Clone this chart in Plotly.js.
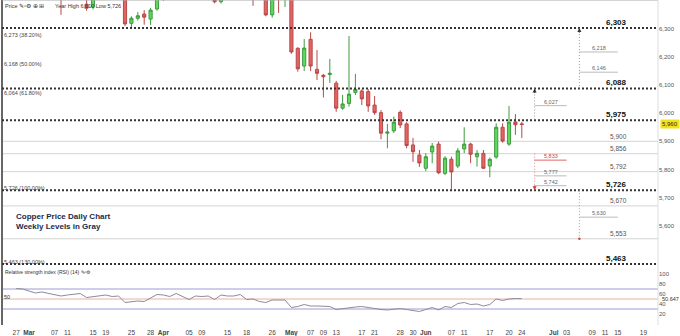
<!DOCTYPE html>
<html><head><meta charset="utf-8">
<script src="https://cdn.plot.ly/plotly-3.0.1.min.js"></script>
<style>html,body{margin:0;padding:0;background:#fff}#chart{width:680px;height:336px}</style>
</head><body><div id="chart"></div>
<script>
// Trading days (LME-style calendar, 2019)
const tradingDays = [
"2019-02-27","2019-02-28",
"2019-03-01","2019-03-04","2019-03-05","2019-03-06","2019-03-07","2019-03-08",
"2019-03-11","2019-03-12","2019-03-13","2019-03-14","2019-03-15",
"2019-03-18","2019-03-19","2019-03-20","2019-03-21","2019-03-22",
"2019-03-25","2019-03-26","2019-03-27","2019-03-28","2019-03-29",
"2019-04-01","2019-04-02","2019-04-03","2019-04-04","2019-04-05",
"2019-04-08","2019-04-09","2019-04-10","2019-04-11","2019-04-12",
"2019-04-15","2019-04-16","2019-04-17","2019-04-18",
"2019-04-23","2019-04-24","2019-04-25","2019-04-26","2019-04-29","2019-04-30",
"2019-05-01","2019-05-02","2019-05-03",
"2019-05-07","2019-05-08","2019-05-09","2019-05-10",
"2019-05-13","2019-05-14","2019-05-15","2019-05-16","2019-05-17",
"2019-05-20","2019-05-21","2019-05-22","2019-05-23","2019-05-24",
"2019-05-28","2019-05-29","2019-05-30","2019-05-31",
"2019-06-03","2019-06-04","2019-06-05","2019-06-06","2019-06-07",
"2019-06-10","2019-06-11","2019-06-12","2019-06-13","2019-06-14",
"2019-06-17","2019-06-18","2019-06-19","2019-06-20","2019-06-21",
"2019-06-24"
];
const futureDays = [
"2019-06-25","2019-06-26","2019-06-27","2019-06-28",
"2019-07-01","2019-07-02","2019-07-03","2019-07-04","2019-07-05",
"2019-07-08","2019-07-09","2019-07-10","2019-07-11","2019-07-12",
"2019-07-15","2019-07-16","2019-07-17","2019-07-18","2019-07-19"
];

const openP = [6480,6470,6460,6480,6500,6460,6440,6430,6420,6450,6470,6388,6378,6430,6460,6450,6440,
6500,6320,6338,6353,6335,6371,
6410,6470,6460,6480,6450,6440,6460,6430,6425,6397,6440,6460,6470,6450,6440,6430,6420,6350,6420,6410,
6430,6231,6168,6263,6156,6135,6138,6107,6018,6035,6074,6079,6077,6029,6002,5929,5937,6003,5962,5887,5851,
5804,5862,5890,5786,5836,5812,5873,5890,5845,5857,5812,5844,5950,5890,5969,5962];
const highP = [6520,6500,6500,6530,6520,6480,6470,6450,6460,6480,6520,6430,6450,6480,6490,6480,6520,
6520,6345,6360,6367,6375,6430,
6480,6500,6490,6510,6470,6470,6480,6450,6440,6450,6480,6490,6500,6470,6460,6460,6440,6440,6440,6450,
6440,6235,6264,6288,6225,6140,6193,6115,6065,6275,6140,6085,6086,6061,6011,5962,5988,6010,5968,5912,5869,
5858,5894,5899,5847,5845,5876,5950,5895,5869,5869,5842,5964,5964,6026,5997,5969];
const lowP = [6440,6440,6430,6450,6440,6420,6410,6350,6410,6430,6450,6365,6370,6420,6430,6420,6430,
6310,6300,6330,6315,6314,6365,
6400,6440,6430,6440,6420,6420,6420,6405,6391,6390,6420,6440,6430,6420,6382,6405,6345,6340,6357,6378,
6212,6148,6150,6150,6118,6056,6108,6005,6012,6023,6065,6029,6005,5994,5907,5875,5930,5947,5875,5827,5809,
5794,5822,5783,5780,5728,5805,5858,5822,5810,5802,5772,5838,5895,5884,5923,5912];
const closeP = [6470,6460,6480,6500,6460,6440,6430,6420,6450,6470,6500,6374,6430,6460,6450,6440,6500,
6318,6338,6347,6342,6367,6410,
6470,6460,6480,6450,6440,6460,6430,6420,6397,6440,6460,6470,6450,6440,6430,6420,6350,6420,6410,6430,
6218,6158,6232,6168,6142,6130,6142,6018,6033,6068,6085,6051,6026,6002,5929,5933,5968,5958,5885,5863,5823,
5845,5883,5788,5840,5791,5866,5890,5854,5857,5804,5836,5950,5901,5968,5959,5960];

const rsi14 = [71,70,66,62,64,61,59,56,58,60,61,53,55,57,58,55,56,
43,45,46,45,52,59,58,55,61,55,49,56,55,56,49,58,56,56,59,49,50,45,43,48,48,48,
33,35,39,36,36,36,35,29,31,32,34,35,33,30,29,28,30,31,29,27,25,
29,33,28,35,33,41,43,39,40,36,39,50,47,50,51,50.647];

const tickDates = ["2019-02-27","2019-03-01","2019-03-07","2019-03-11","2019-03-15","2019-03-19","2019-03-25","2019-03-28",
"2019-04-01","2019-04-05","2019-04-09","2019-04-15","2019-04-18","2019-04-26",
"2019-05-01","2019-05-07","2019-05-09","2019-05-13","2019-05-17","2019-05-21","2019-05-28","2019-05-30",
"2019-06-03","2019-06-07","2019-06-11","2019-06-17","2019-06-20","2019-06-24",
"2019-07-01","2019-07-03","2019-07-09","2019-07-11","2019-07-15","2019-07-19"];
const tickLabels = ["27","<b>Mar</b>","07","11","15","19","25","28",
"<b>Apr</b>","05","09","15","18","26",
"<b>May</b>","07","09","13","17","21","28","30",
"<b>Jun</b>","07","11","17","20","24",
"<b>Jul</b>","03","09","11","15","19"];

const keyLevels = [6303, 6088, 5975, 5726, 5463];
const weeklyLevels = [5900, 5856, 5792, 5670, 5553];
const fibLevels = [6273, 6168, 6064, 5726, 5463];
const fibPct = ["38.20%","50.00%","61.80%","100.00%","130.00%"];
const priceTicks = [5600,5700,5800,5900,6000,6100,6200,6300,6400];
const rsiTicks = [20,40,60,80,100];
const lastPrice = 5960;
const lastRsi = 50.647;

// projection targets: [level, startDay, endDay, color]
const projLevels = [
 [6218,"2019-07-05","2019-07-15","#999"],
 [6146,"2019-07-05","2019-07-15","#999"],
 [6027,"2019-06-26","2019-07-03","#999"],
 [5833,"2019-06-26","2019-07-03","#e06666"],
 [5777,"2019-06-26","2019-07-03","#999"],
 [5742,"2019-06-26","2019-07-03","#999"],
 [5630,"2019-07-05","2019-07-15","#999"]
];
const projRanges = [
 ["2019-07-05",6303,6088,"#999"],
 ["2019-06-26",6088,5975,"#999"],
 ["2019-06-26",5856,5726,"#e08a8a"],
 ["2019-07-05",5726,5553,"#e08a8a"]
];

const allDays = tradingDays.concat(futureDays);
const idx = d => allDays.indexOf(d);
const xs = tradingDays.map((d,i)=>i);
const fmt = v => String(v).replace(/\B(?=(\d{3})+(?!\d))/g, ",");
const FONT = "Liberation Sans, Arial, sans-serif";

const candles = {
  type:"candlestick", x:xs, open:openP, high:highP, low:lowP, close:closeP,
  xaxis:"x", yaxis:"y",
  increasing:{line:{color:"#3f9a3f",width:1},fillcolor:"#5fd85f"},
  decreasing:{line:{color:"#b84848",width:1},fillcolor:"#e46464"},
  whiskerwidth:0, hoverinfo:"skip"
};
const rsiTrace = {
  type:"scatter", mode:"lines", x:xs, y:rsi14, xaxis:"x", yaxis:"y2",
  line:{color:"#8f8a96",width:1}, hoverinfo:"skip"
};

const shapes = [];
const annotations = [];
// borders
shapes.push({type:"line",xref:"paper",yref:"paper",x0:0,x1:0,y0:0,y1:1,line:{color:"#666",width:2}});
shapes.push({type:"line",xref:"paper",yref:"paper",x0:0,x1:1,y0:1,y1:1,line:{color:"#aaa",width:1}});
shapes.push({type:"line",xref:"paper",yref:"paper",x0:1,x1:1,y0:0,y1:1,line:{color:"#ddd",width:1}});
// weekly gray levels
weeklyLevels.forEach(v=>{
  shapes.push({type:"line",xref:"paper",yref:"y",x0:0,x1:1,y0:v,y1:v,line:{color:"#d4d4d4",width:1},layer:"below"});
  annotations.push({xref:"paper",yref:"y",x:0.956,y:v,yshift:5,text:fmt(v),showarrow:false,
    font:{family:FONT,size:6.5,color:"#555"}});
});
// key black levels
keyLevels.forEach(v=>{
  shapes.push({type:"line",xref:"paper",yref:"y",x0:0,x1:1,y0:v,y1:v,line:{color:"#333",width:2,dash:"2px,2px"}});
  annotations.push({xref:"paper",yref:"y",x:0.956,y:v,yshift:6,text:"<b>"+fmt(v)+"</b>",showarrow:false,
    font:{family:FONT,size:8,color:"#111"}});
});
// fib labels
fibLevels.forEach((v,i)=>{
  annotations.push({xref:"paper",yref:"y",x:0,xanchor:"left",y:v,yshift:2,text:fmt(v)+" ("+fibPct[i]+")",
    showarrow:false,font:{family:FONT,size:5.5,color:"#444"}});
});
// projections
projRanges.forEach(p=>{
  shapes.push({type:"line",xref:"x",yref:"y",x0:idx(p[0]),x1:idx(p[0]),y0:p[1],y1:p[2],
    line:{color:p[3],width:1,dash:"1px,2px"}});
});
projLevels.forEach(p=>{
  const x0 = idx(p[1]), x1 = idx(p[2]);
  shapes.push({type:"line",xref:"x",yref:"y",x0:x0,x1:x1,y0:p[0],y1:p[0],line:{color:p[3]==="#999"?"#bbb":p[3],width:1}});
  annotations.push({xref:"x",yref:"y",x:(x0+x1)/2,y:p[0],yshift:4,text:fmt(p[0]),showarrow:false,
    font:{family:FONT,size:5.5,color:p[3]==="#999"?"#666":"#d04040"}});
});
// arrowheads
[[projRanges[0][0],6303,"#333",6],[projRanges[1][0],6088,"#333",6],[projRanges[2][0],5726,"#d04040",-6]].forEach(a=>{
  annotations.push({xref:"x",yref:"y",x:idx(a[0]),y:a[1],ax:0,ay:a[3],showarrow:true,arrowhead:2,arrowsize:0.8,
    arrowwidth:1,arrowcolor:a[2],text:""});
});
shapes.push({type:"circle",xref:"x",yref:"y",xsizemode:"pixel",ysizemode:"pixel",xanchor:idx(projRanges[3][0]),yanchor:5553,
  x0:-1.2,x1:1.2,y0:-1.2,y1:1.2,fillcolor:"#d04040",line:{width:0}});
// RSI reference lines
[[70,"#9a9ad8"],[50,"#e8b0a8"],[30,"#9a9ad8"]].forEach(r=>{
  shapes.push({type:"line",xref:"paper",yref:"y2",x0:0,x1:1,y0:r[0],y1:r[0],line:{color:r[1],width:1},layer:"below"});
});
// texts
annotations.push({xref:"paper",yref:"paper",x:0.002,y:1,xanchor:"left",yanchor:"top",yshift:-1,
  text:"Price ✎▫⚙ ⊕ ⊞",showarrow:false,font:{family:FONT,size:5.5,color:"#333"}});
annotations.push({xref:"paper",yref:"paper",x:(53-2)/656,y:1,xanchor:"left",yanchor:"top",yshift:-1,
  text:"Year High 6,610 Low 5,726",showarrow:false,font:{family:FONT,size:5.5,color:"#333"}});
annotations.push({xref:"paper",yref:"y",x:(14-2)/656,y:5654,xanchor:"left",yanchor:"top",
  text:"<b>Copper Price Daily Chart<br>Weekly Levels in Gray</b>",align:"left",showarrow:false,
  font:{family:FONT,size:8,color:"#1c2a48"}});
annotations.push({xref:"paper",yref:"y2",x:0.002,y:104,xanchor:"left",
  text:"Relative strength index (RSI) (14) ✎▫⚙",showarrow:false,font:{family:FONT,size:5,color:"#333"}});
annotations.push({xref:"paper",yref:"y2",x:0,y:50,xanchor:"left",yshift:2,
  text:"50",showarrow:false,font:{family:FONT,size:5.5,color:"#333"}});
annotations.push({xref:"paper",yref:"y",x:1,y:lastPrice,xanchor:"left",xshift:2,
  text:fmt(lastPrice),showarrow:false,bgcolor:"#f2e21c",borderpad:1,font:{family:FONT,size:6,color:"#222"}});
annotations.push({xref:"paper",yref:"y2",x:1,y:lastRsi,xanchor:"left",xshift:2,
  text:String(lastRsi),showarrow:false,font:{family:FONT,size:5.5,color:"#333"}});

const layout = {
  width:680, height:336, margin:{l:2,r:22,t:0,b:11},
  paper_bgcolor:"#fff", plot_bgcolor:"#fff", showlegend:false,
  xaxis:{range:[(2-16.2)/6.4,(658-16.2)/6.4], anchor:"y2", tickvals:tickDates.map(idx), ticktext:tickLabels,
    tickfont:{family:FONT,size:6.5,color:"#444"}, showgrid:false, zeroline:false, showline:false, ticks:"",
    rangeslider:{visible:false}, tickangle:0, ticklabelstandoff:2},
  yaxis:{domain:[1-268/325,1], range:[5449,6403], side:"right", tickvals:priceTicks, ticktext:priceTicks.map(fmt),
    tickfont:{family:FONT,size:6,color:"#555"}, showgrid:false, zeroline:false, showline:false, ticks:""},
  yaxis2:{domain:[0,1-270/325], range:[-2,108], side:"right", tickvals:rsiTicks,
    tickfont:{family:FONT,size:6,color:"#555"}, showgrid:false, zeroline:false, showline:false, ticks:""},
  shapes:shapes, annotations:annotations
};
Plotly.newPlot("chart",[candles,rsiTrace],layout,{staticPlot:true,displayModeBar:false});
</script></body></html>
